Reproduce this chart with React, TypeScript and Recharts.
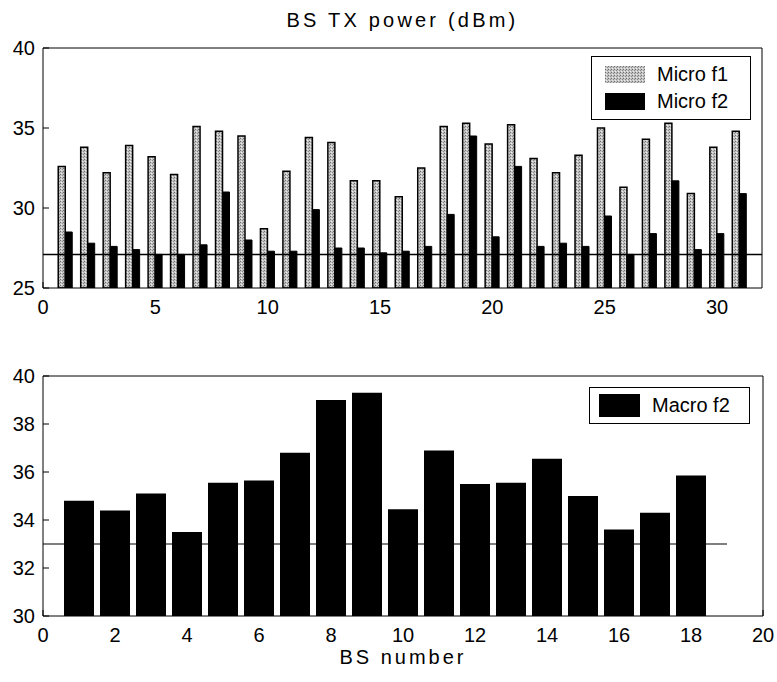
import React from 'react';
import { BarChart, Bar, XAxis, YAxis, ReferenceLine } from 'recharts';

// upper panel: micro cells
const microBs = [1, 2, 3, 4, 5, 6, 7, 8, 9, 10, 11, 12, 13, 14, 15, 16, 17, 18, 19, 20, 21, 22, 23, 24, 25, 26, 27, 28, 29, 30, 31];
const microF1 = [32.6, 33.8, 32.2, 33.9, 33.2, 32.1, 35.1, 34.8, 34.5, 28.7, 32.3, 34.4, 34.1, 31.7, 31.7, 30.7, 32.5, 35.1, 35.3, 34.0, 35.2, 33.1, 32.2, 33.3, 35.0, 31.3, 34.3, 35.3, 30.9, 33.8, 34.8];
const microF2 = [28.5, 27.8, 27.6, 27.4, 27.1, 27.1, 27.7, 31.0, 28.0, 27.3, 27.3, 29.9, 27.5, 27.5, 27.2, 27.3, 27.6, 29.6, 34.5, 28.2, 32.6, 27.6, 27.8, 27.6, 29.5, 27.1, 28.4, 31.7, 27.4, 28.4, 30.9];
const microXTicks = [0, 5, 10, 15, 20, 25, 30];
const microYTicks = [25, 30, 35, 40];
const microLimit = 27.1;

// lower panel: macro cells
const macroBs = [1, 2, 3, 4, 5, 6, 7, 8, 9, 10, 11, 12, 13, 14, 15, 16, 17, 18];
const macroF2 = [34.8, 34.4, 35.1, 33.5, 35.55, 35.65, 36.8, 39.0, 39.3, 34.45, 36.9, 35.5, 35.55, 36.55, 35.0, 33.6, 34.3, 35.85];
const macroXTicks = [0, 2, 4, 6, 8, 10, 12, 14, 16, 18, 20];
const macroYTicks = [30, 32, 34, 36, 38, 40];
const macroLimit = 33;

const microData = microBs.map((bs, i) => ({ bs, f1: microF1[i], f2: microF2[i] }));
const macroData = macroBs.map((bs, i) => ({ bs, f2: macroF2[i] }));

const font = 'Liberation Sans, Arial, sans-serif';
const tickStyle = { fill: '#000', fontSize: 20, fontFamily: font };

function Stipple({ id }: { id: string }) {
  return (
    <pattern id={id} width="3" height="3" patternUnits="userSpaceOnUse">
      <rect width="3" height="3" fill="#c4c4c4" />
      <rect x="0" y="0" width="1" height="1" fill="#6e6e6e" />
      <rect x="2" y="1" width="1" height="1" fill="#8c8c8c" />
      <rect x="1" y="2" width="1" height="1" fill="#ececec" />
    </pattern>
  );
}

function LegendBox(props: { items: { name: string; stipple: boolean }[]; style: React.CSSProperties; swatchW: number; swatchH: number }) {
  return (
    <div
      style={{
        position: 'absolute',
        border: '1px solid #000',
        background: '#fff',
        padding: '4px 8px 4px 13px',
        fontFamily: font,
        fontSize: 20,
        ...props.style,
      }}
    >
      {props.items.map((it) => (
        <div key={it.name} style={{ display: 'flex', alignItems: 'center', height: 27 }}>
          <svg width={props.swatchW} height={props.swatchH} style={{ marginRight: 12 }}>
            <defs>
              <Stipple id={'lg-' + it.name.replace(' ', '')} />
            </defs>
            <rect
              width={props.swatchW}
              height={props.swatchH}
              fill={it.stipple ? 'url(#lg-' + it.name.replace(' ', '') + ')' : '#000'}
            />
          </svg>
          <span>{it.name}</span>
        </div>
      ))}
    </div>
  );
}

export default function App() {
  return (
    <div style={{ position: 'absolute', left: 0, top: 0, width: 777, height: 682, background: '#fff', fontFamily: font }}>
      <div style={{ position: 'absolute', left: 0, top: 0 }}>
        <BarChart width={777} height={330} data={microData} margin={{ top: 47, right: 14, bottom: 0, left: 0 }} barGap={0} barSize={7}>
          <defs>
            <Stipple id="micro-stipple" />
          </defs>
          <XAxis
            dataKey="bs"
            type="number"
            domain={[0, 32]}
            ticks={microXTicks}
            height={42}
            tickSize={-6}
            tickMargin={18}
            tick={tickStyle}
            axisLine={{ stroke: '#000' }}
            tickLine={{ stroke: '#000' }}
            allowDataOverflow
          />
          <XAxis
            xAxisId="top"
            orientation="top"
            type="number"
            domain={[0, 32]}
            ticks={microXTicks}
            height={1}
            tickSize={-6}
            tick={false}
            axisLine={{ stroke: '#000' }}
            tickLine={{ stroke: '#000' }}
            allowDataOverflow
            label={{ value: 'BS TX power (dBm)', position: 'top', offset: 20, fill: '#000', fontSize: 20, fontFamily: font, letterSpacing: 3.2 }}
          />
          <YAxis
            domain={[25, 40]}
            ticks={microYTicks}
            width={43}
            tickSize={-6}
            tickMargin={14}
            tick={tickStyle}
            axisLine={{ stroke: '#000' }}
            tickLine={{ stroke: '#000' }}
            allowDataOverflow
          />
          <YAxis
            yAxisId="right"
            orientation="right"
            domain={[25, 40]}
            ticks={microYTicks}
            width={1}
            tickSize={-6}
            tick={false}
            axisLine={{ stroke: '#000' }}
            tickLine={{ stroke: '#000' }}
            allowDataOverflow
          />
          <Bar dataKey="f1" name="Micro f1" fill="url(#micro-stipple)" stroke="#000" strokeWidth={1.5} isAnimationActive={false} />
          <Bar dataKey="f2" name="Micro f2" fill="#000" stroke="#000" strokeWidth={1} isAnimationActive={false} />
          <ReferenceLine y={microLimit} stroke="#000" strokeWidth={1.5} />
        </BarChart>
        <LegendBox
          style={{ left: 591, top: 56, width: 137 }}
          swatchW={40}
          swatchH={17}
          items={[
            { name: 'Micro f1', stipple: true },
            { name: 'Micro f2', stipple: false },
          ]}
        />
      </div>
      <div style={{ position: 'absolute', left: 0, top: 330 }}>
        <BarChart width={777} height={352} data={macroData} margin={{ top: 45, right: 13, bottom: 0, left: 0 }} barSize={30}>
          <XAxis
            dataKey="bs"
            type="number"
            domain={[0, 20]}
            ticks={macroXTicks}
            height={66}
            tickSize={-6}
            tickMargin={18}
            tick={tickStyle}
            axisLine={{ stroke: '#000' }}
            tickLine={{ stroke: '#000' }}
            allowDataOverflow
            label={{ value: 'BS number', position: 'insideBottom', offset: 18, fill: '#000', fontSize: 20, fontFamily: font, letterSpacing: 3 }}
          />
          <XAxis
            xAxisId="top"
            orientation="top"
            type="number"
            domain={[0, 20]}
            ticks={macroXTicks}
            height={1}
            tickSize={-6}
            tick={false}
            axisLine={{ stroke: '#000' }}
            tickLine={{ stroke: '#000' }}
            allowDataOverflow
          />
          <YAxis
            domain={[30, 40]}
            ticks={macroYTicks}
            width={43}
            tickSize={-6}
            tickMargin={14}
            tick={tickStyle}
            axisLine={{ stroke: '#000' }}
            tickLine={{ stroke: '#000' }}
            allowDataOverflow
          />
          <YAxis
            yAxisId="right"
            orientation="right"
            domain={[30, 40]}
            ticks={macroYTicks}
            width={1}
            tickSize={-6}
            tick={false}
            axisLine={{ stroke: '#000' }}
            tickLine={{ stroke: '#000' }}
            allowDataOverflow
          />
          <Bar dataKey="f2" name="Macro f2" fill="#000" isAnimationActive={false} />
          <ReferenceLine
            segment={[
              { x: 0, y: macroLimit },
              { x: 19, y: macroLimit },
            ]}
            stroke="#000"
            strokeWidth={1.2}
          />
        </BarChart>
        <LegendBox
          style={{ left: 589, top: 57, width: 142, padding: '4px 8px 4px 9px' }}
          swatchW={41}
          swatchH={23}
          items={[{ name: 'Macro f2', stipple: false }]}
        />
      </div>
    </div>
  );
}
